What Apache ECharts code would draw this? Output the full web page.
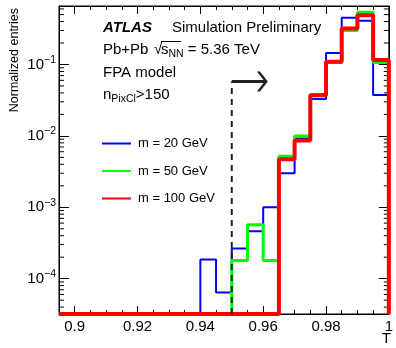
<!DOCTYPE html>
<html>
<head>
<meta charset="utf-8">
<script src="https://cdn.jsdelivr.net/npm/echarts@6/dist/echarts.min.js"></script>
<style>
  html, body { margin: 0; padding: 0; background: #fff; }
  #chart { width: 396px; height: 348px; }
</style>
</head>
<body>
<div id="chart"></div>
<script>
// bins of width 0.005, lower edges
const binLow = [0.895, 0.9, 0.905, 0.91, 0.915, 0.92, 0.925, 0.93, 0.935, 0.94, 0.945,
  0.95, 0.955, 0.96, 0.965, 0.97, 0.975, 0.98, 0.985, 0.99, 0.995];
const binWidth = 0.005;

const m20 = [0, 0, 0, 0, 0, 0, 0, 0, 0, 1.85e-4, 6.4e-5,
  2.65e-4, 4.6e-4, 1.0e-3, 3.0e-3, 9.2e-3, 3.3e-2, 0.145, 0.45, 0.41, 0.0375];
const m50 = [0, 0, 0, 0, 0, 0, 0, 0, 0, 0, 0,
  1.8e-4, 5.7e-4, 1.8e-4, 5.2e-3, 1.0e-2, 3.8e-2, 0.107, 0.30, 0.54, 0.107];
const m100 = [0, 0, 0, 0, 0, 0, 0, 0, 0, 0, 0,
  0, 0, 0, 4.7e-3, 8.6e-3, 3.7e-2, 0.109, 0.32, 0.49, 0.116];

const xTicks = [0.9, 0.92, 0.94, 0.96, 0.98, 1.0];
const xMinorTicks = [0.905, 0.91, 0.915, 0.925, 0.93, 0.935, 0.945, 0.95, 0.955,
  0.965, 0.97, 0.975, 0.985, 0.99, 0.995];
const yMinorTicks = [4e-5, 5e-5, 6e-5, 7e-5, 8e-5, 9e-5,
  2e-4, 3e-4, 4e-4, 5e-4, 6e-4, 7e-4, 8e-4, 9e-4,
  2e-3, 3e-3, 4e-3, 5e-3, 6e-3, 7e-3, 8e-3, 9e-3,
  2e-2, 3e-2, 4e-2, 5e-2, 6e-2, 7e-2, 8e-2, 9e-2,
  0.2, 0.3, 0.4, 0.5, 0.6];

// selection cut and arrow
const cutT = 0.95;
const cutTop = 0.058;
const arrowEnd = 0.961;

const xMin = 0.895, xMax = 1.0;
const yMin = 3.2e-5, yMax = 0.66;

const FONT = 'Liberation Sans, Arial, Helvetica, sans-serif';

function histPoints(vals) {
  const pts = [[binLow[0], yMin]];
  vals.forEach((v, i) => {
    const y = v > 0 ? v : yMin;
    pts.push([binLow[i], y], [+(binLow[i] + binWidth).toFixed(3), y]);
  });
  pts.push([+(binLow[binLow.length - 1] + binWidth).toFixed(3), yMin]);
  return pts;
}

function histSeries(name, vals, color, width) {
  return {
    name: name,
    type: 'line',
    data: histPoints(vals),
    symbol: 'none',
    clip: false,
    animation: false,
    lineStyle: { color: color, width: width },
    itemStyle: { color: color },
  };
}

const chart = echarts.init(document.getElementById('chart'));

const xAxisBase = {
  type: 'value',
  min: xMin,
  max: xMax,
  splitLine: { show: false },
};

const option = {
  animation: false,
  grid: {
    left: 59,
    right: 4,
    top: 6,
    bottom: 34,
    show: true,
    borderColor: '#000',
    borderWidth: 1,
  },
  legend: {
    data: ['m = 20 GeV', 'm = 50 GeV', 'm = 100 GeV'],
    orient: 'vertical',
    left: 101,
    top: 137,
    padding: 0,
    itemWidth: 29,
    itemHeight: 14,
    itemGap: 14.5,
    itemStyle: { opacity: 0, borderWidth: 0 },
    textStyle: { fontSize: 13, fontFamily: FONT, color: '#000', padding: [0, 0, 0, 2] },
  },
  xAxis: [
    Object.assign({}, xAxisBase, {
      position: 'bottom',
      axisLine: { show: true, lineStyle: { color: '#000' } },
      axisTick: { inside: true, length: 8, customValues: xTicks, lineStyle: { color: '#000' } },
      axisLabel: {
        customValues: xTicks,
        color: '#000',
        fontSize: 15,
        fontFamily: FONT,
        margin: 5,
        formatter: (v) => String(+(+v).toFixed(2)),
      },
    }),
    Object.assign({}, xAxisBase, {
      position: 'bottom',
      axisLine: { show: false },
      axisTick: { inside: true, length: 4, customValues: xMinorTicks, lineStyle: { color: '#000' } },
      axisLabel: { show: false },
    }),
    Object.assign({}, xAxisBase, {
      position: 'top',
      axisLine: { show: true, lineStyle: { color: '#000' } },
      axisTick: { inside: true, length: 8, customValues: xTicks, lineStyle: { color: '#000' } },
      axisLabel: { show: false },
    }),
    Object.assign({}, xAxisBase, {
      position: 'top',
      axisLine: { show: false },
      axisTick: { inside: true, length: 4, customValues: xMinorTicks, lineStyle: { color: '#000' } },
      axisLabel: { show: false },
    }),
  ],
  yAxis: [
    {
      type: 'log',
      min: yMin,
      max: yMax,
      position: 'left',
      splitLine: { show: false },
      axisLine: { show: true, lineStyle: { color: '#000' } },
      axisTick: { inside: true, length: 10, lineStyle: { color: '#000' } },
      axisLabel: {
        margin: 3,
        formatter: (v) => {
          const e = Math.log10(v);
          const n = Math.round(e);
          if (Math.abs(e - n) > 1e-6) return '';
          return '{b|10}{s|\u2212' + (-n) + '}';
        },
        rich: {
          b: { fontSize: 15, fontFamily: FONT, color: '#000', lineHeight: 20 },
          s: { fontSize: 10.5, fontFamily: FONT, color: '#000', lineHeight: 12, verticalAlign: 'top' },
        },
      },
    },
    {
      type: 'log',
      min: yMin,
      max: yMax,
      position: 'right',
      splitLine: { show: false },
      axisLine: { show: true, lineStyle: { color: '#000' } },
      axisTick: { inside: true, length: 10, lineStyle: { color: '#000' } },
      axisLabel: { show: false },
    },
  ],
  series: [
    histSeries('m = 20 GeV', m20, '#0000ff', 2),
    histSeries('m = 50 GeV', m50, '#00ff00', 3),
    histSeries('m = 100 GeV', m100, '#ff0000', 4),
    {
      type: 'line',
      data: [[cutT, yMin], [cutT, cutTop]],
      symbol: 'none',
      clip: false,
      lineStyle: { color: '#222', width: 2, type: [6, 5] },
    },
    {
      type: 'line',
      data: [
        { value: [cutT, cutTop], symbol: 'none' },
        {
          value: [arrowEnd, cutTop],
          symbol: 'path://M0,0 L4,0 L14,11 L4,22 L0,22 L10,11 Z',
          symbolSize: [11, 20],
          symbolOffset: [-4, 0],
        },
      ],
      showSymbol: true,
      clip: false,
      lineStyle: { color: '#222', width: 3 },
      itemStyle: { color: '#222' },
    },
    {
      // minor ticks of the log axis, left and right frame edges
      type: 'custom',
      clip: false,
      silent: true,
      data: yMinorTicks.map((v) => [xMin, v]),
      renderItem: (params, api) => {
        const v = api.value(1);
        const l = api.coord([xMin, v]);
        const r = api.coord([xMax, v]);
        const st = { stroke: '#000', lineWidth: 1 };
        return {
          type: 'group',
          children: [
            { type: 'line', shape: { x1: l[0], y1: l[1], x2: l[0] + 5, y2: l[1] }, style: st },
            { type: 'line', shape: { x1: r[0] - 5, y1: r[1], x2: r[0], y2: r[1] }, style: st },
          ],
        };
      },
    },
  ],
  graphic: [
    {
      type: 'text', x: 103, y: 28,
      style: { text: 'ATLAS', font: 'bold italic 15px ' + FONT, fill: '#000', textVerticalAlign: 'middle' },
    },
    {
      type: 'text', x: 172, y: 28,
      style: { text: 'Simulation Preliminary', font: '15px ' + FONT, fill: '#000', textVerticalAlign: 'middle' },
    },
    {
      type: 'text', x: 103, y: 50,
      style: { text: 'Pb+Pb', font: '15px ' + FONT, fill: '#000', textVerticalAlign: 'middle' },
    },
    {
      type: 'text', x: 154, y: 50,
      style: { text: '\u221A', font: '15px ' + FONT, fill: '#000', textVerticalAlign: 'middle' },
    },
    {
      type: 'line',
      shape: { x1: 161, y1: 41.5, x2: 181, y2: 41.5 },
      style: { stroke: '#000', lineWidth: 1 },
    },
    {
      type: 'text', x: 161, y: 50,
      style: {
        text: '{a|s}{sub|NN}{a| = 5.36 TeV}',
        fill: '#000',
        textVerticalAlign: 'middle',
        rich: {
          a: { fontSize: 15, fontFamily: FONT, lineHeight: 20 },
          sub: { fontSize: 10.5, fontFamily: FONT, lineHeight: 11, verticalAlign: 'bottom' },
        },
      },
    },
    {
      type: 'text', x: 103, y: 73,
      style: { text: 'FPA model', font: '15px ' + FONT, fill: '#000', textVerticalAlign: 'middle' },
    },
    {
      type: 'text', x: 103, y: 95,
      style: {
        text: '{a|n}{sub|PixCl}{a|>150}',
        fill: '#000',
        textVerticalAlign: 'middle',
        rich: {
          a: { fontSize: 15, fontFamily: FONT, lineHeight: 20 },
          sub: { fontSize: 10.5, fontFamily: FONT, lineHeight: 11, verticalAlign: 'bottom' },
        },
      },
    },
    {
      type: 'text', x: 15, y: 8, rotation: Math.PI / 2,
      style: { text: 'Normalized entries', font: '12.5px ' + FONT, fill: '#000', textAlign: 'right', textVerticalAlign: 'middle' },
    },
    {
      type: 'text', x: 391, y: 339,
      style: { text: 'T', font: '15px ' + FONT, fill: '#000', textAlign: 'right', textVerticalAlign: 'middle' },
    },
  ],
};

chart.setOption(option);
</script>
</body>
</html>
